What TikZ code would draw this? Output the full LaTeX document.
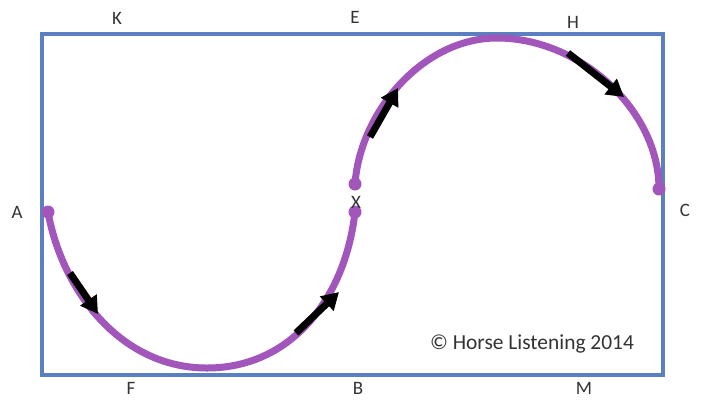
\documentclass[tikz,border=0pt]{standalone}
\usepackage{fontspec}
\setmainfont{Carlito}
\usetikzlibrary{arrows.meta}
\definecolor{arenablue}{HTML}{5B80C2}
\definecolor{pathpurple}{HTML}{A255BA}
\definecolor{labelgray}{HTML}{333333}
\tikzset{
  arena/.style={draw=arenablue, line width=4bp},
  route/.style={draw=pathpurple, line width=7bp},
  pdot/.style={circle, fill=pathpurple, inner sep=0pt, minimum size=13bp},
  dirarrow/.style={draw=black, line width=7bp, -{Triangle[length=17bp,width=19bp]}},
  letter/.style={text=labelgray, font=\fontsize{19}{22}\selectfont, inner sep=0pt},
  credit/.style={text=labelgray, font=\fontsize{21.5}{24}\selectfont, inner sep=0pt},
}
\begin{document}
\begin{tikzpicture}[x=1bp, y=-1bp]
\useasboundingbox (0,0) rectangle (706,399);
\fill[white] (0,0) rectangle (706,399);
\draw[arena] (42,34) rectangle (663,375);
% route
\node[pdot] (a) at (48,212) {};
\node[pdot] (xb) at (355,212) {};
\node[pdot] (xt) at (355,184) {};
\node[pdot] (c) at (659,189) {};
\coordinate (bot) at (207,368);
\coordinate (top) at (497,38);
\draw[route] (a.center) .. controls (62,290) and (120,368) .. (bot)
  .. controls (290,368) and (345,300) .. (xb.center);
\draw[route] (xt.center) .. controls (360,112) and (423,38) .. (top)
  .. controls (580,38) and (659,110) .. (c.center);
% direction arrows
\coordinate (t1) at (70,273); \coordinate (h1) at (98,314);
\coordinate (t2) at (296,333); \coordinate (h2) at (339,292);
\coordinate (t3) at (370,137); \coordinate (h3) at (398,88);
\coordinate (t4) at (568,53); \coordinate (h4) at (624,97);
\draw[dirarrow] (t1) -- (h1);
\draw[dirarrow] (t2) -- (h2);
\draw[dirarrow] (t3) -- (h3);
\draw[dirarrow] (t4) -- (h4);
% letters
\node[letter] (K) at (117,18) {K};
\node[letter] (E) at (355,17) {E};
\node[letter] (H) at (573,22) {H};
\node[letter] (A) at (17,212) {A};
\node[letter] (X) at (356,202) {X};
\node[letter] (C) at (685,210) {C};
\node[letter] (F) at (131,388) {F};
\node[letter] (B) at (358,388) {B};
\node[letter] (M) at (584,388) {M};
\node[credit] (copy) at (532,344) {© Horse Listening 2014};
\end{tikzpicture}
\end{document}
